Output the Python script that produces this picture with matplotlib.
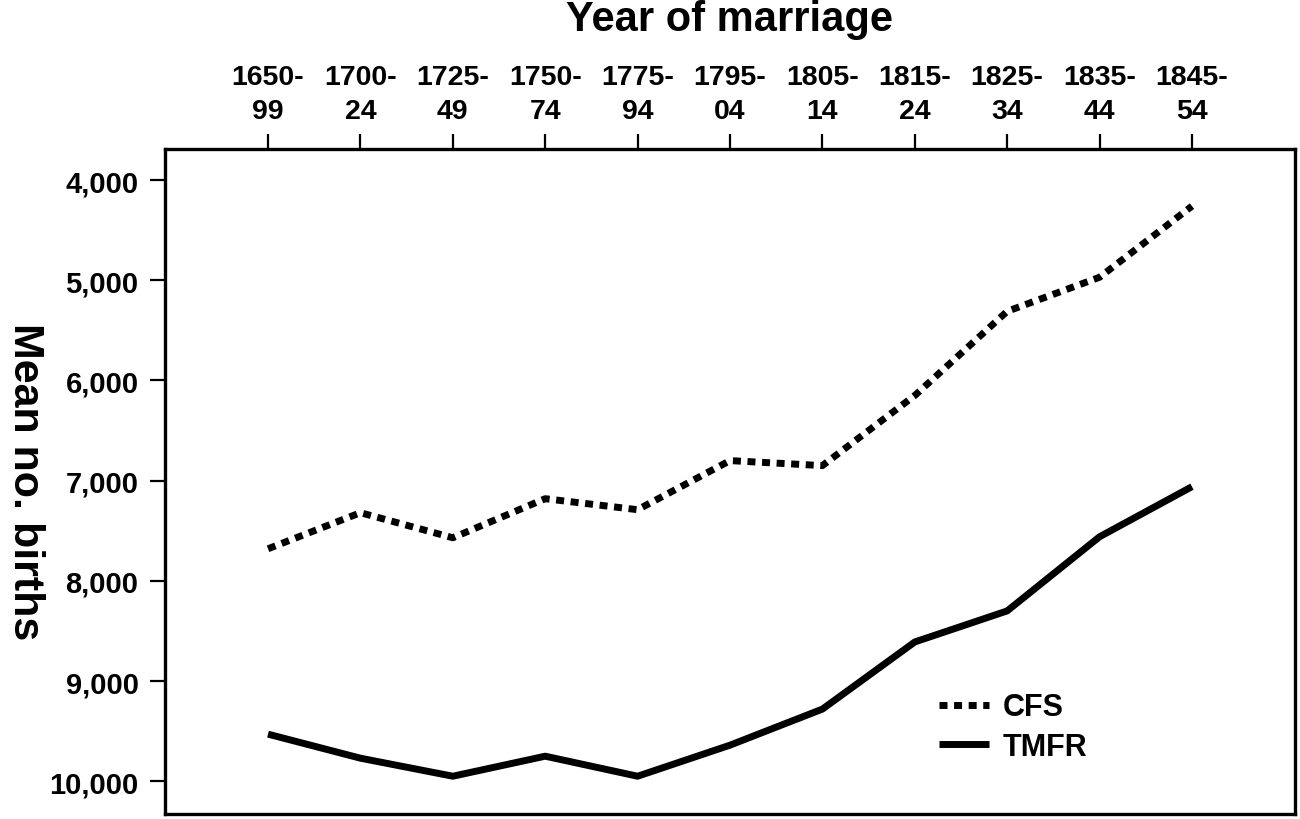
import matplotlib
matplotlib.use("Agg")
import matplotlib.pyplot as plt
from matplotlib.ticker import FuncFormatter

plt.rcParams['font.family'] = ['Liberation Sans', 'DejaVu Sans']
plt.rcParams['font.weight'] = 'bold'

periods = ["1650-\n99", "1700-\n24", "1725-\n49", "1750-\n74", "1775-\n94", "1795-\n04",
           "1805-\n14", "1815-\n24", "1825-\n34", "1835-\n44", "1845-\n54"]
cfs = [7.68, 7.32, 7.57, 7.18, 7.29, 6.80, 6.85, 6.15, 5.31, 4.97, 4.26]
tmfr = [9.53, 9.77, 9.95, 9.75, 9.95, 9.64, 9.28, 8.61, 8.30, 7.56, 7.06]
y_ticks = [4, 5, 6, 7, 8, 9, 10]

fig = plt.figure(figsize=(13, 8.2), dpi=100)
ax = fig.add_axes([165/1300, 1 - 815/820, 1130/1300, 665/820])

x = list(range(len(periods)))
ax.plot(x, cfs, color='black', lw=5, linestyle=(0, (1.15, 0.95)),
        dash_capstyle='butt', solid_joinstyle='round', label='CFS')
ax.plot(x, tmfr, color='black', lw=5, solid_capstyle='butt',
        solid_joinstyle='round', label='TMFR')

ax.set_xlim(-1.115, 11.115)
ax.set_ylim(10.327, 3.69)

ax.xaxis.tick_top()
ax.xaxis.set_label_position('top')
ax.set_xticks(x)
ax.set_xticklabels(periods, fontsize=20.5, fontweight='bold', linespacing=1.4)
ax.set_yticks(y_ticks)
ax.yaxis.set_major_formatter(FuncFormatter(lambda v, p: f"{v:.3f}".replace('.', ',')))
for lab in ax.get_yticklabels():
    lab.set_fontsize(21)
    lab.set_fontweight('bold')

ax.tick_params(axis='x', length=11, width=1.6, pad=7, color='black')
ax.tick_params(axis='y', length=11, width=1.6, pad=8, color='black', labelsize=21)

for s in ax.spines.values():
    s.set_linewidth(2.4)
    s.set_color('black')

ax.set_xlabel("Year of marriage", fontsize=30, fontweight='bold', va='center')
ax.xaxis.set_label_coords((730 - 165) / 1130, (815 - 20) / 665)
ax.set_ylabel("Mean no. births", fontsize=31, fontweight='bold', rotation=270,
              va='center', ha='center')
ax.yaxis.set_label_coords((25 - 165) / 1130, (815 - 482) / 665)

leg = ax.legend(loc='center', bbox_to_anchor=((1013 - 165) / 1130, (815 - 728) / 665),
                frameon=False, handlelength=1.65, handletextpad=0.45,
                labelspacing=0.3, prop={'weight': 'bold', 'size': 22})

fig.savefig("out.png", dpi=100)
